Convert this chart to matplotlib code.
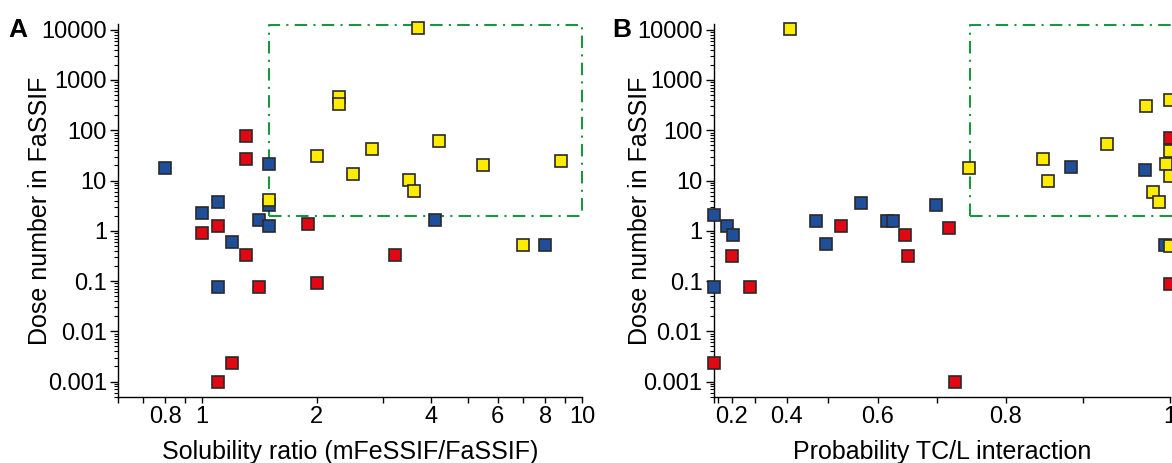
import matplotlib
matplotlib.use('Agg')
import matplotlib.pyplot as plt
import numpy as np
from matplotlib.ticker import FixedLocator, FixedFormatter, NullLocator, LogLocator

plt.rcParams['font.family'] = ['Liberation Sans', 'DejaVu Sans']

# panel A: solubility ratio vs dose number
yellow_sol = [3.69, 2.29, 2.29, 2.0, 2.8, 2.5, 4.2, 3.51, 3.6, 5.5, 8.78, 1.5, 7.0]
yellow_dose = [11000, 455, 335, 31, 43, 13.6, 60, 10.3, 6.2, 20, 24, 4.1, 0.51]
red_sol = [1.3, 1.3, 1.9, 1.0, 1.1, 1.3, 3.21, 1.41, 2.0, 1.2, 1.1]
red_dose = [77, 27, 1.36, 0.9, 1.22, 0.333, 0.333, 0.076, 0.091, 0.00234, 0.001]
blue_sol = [0.8, 1.5, 1.5, 1.0, 1.1, 1.41, 1.5, 4.1, 1.2, 7.98, 1.1]
blue_dose = [17.4, 21, 3.3, 2.3, 3.8, 1.66, 1.27, 1.63, 0.6, 0.53, 0.076]

# panel B: probability of TC/L interaction vs dose number
yellow_p = [0.41, 0.748, 0.85, 0.856, 0.929, 0.973, 1.0, 1.0, 0.996, 1.0, 0.981, 0.988, 1.0]
yellow_d = [10300, 18, 27.4, 9.6, 54, 305, 400, 38, 21.5, 12.4, 5.8, 3.7, 0.49]
red_p = [1.0, 0.528, 0.647, 0.718, 0.199, 0.653, 0.284, 1.0, 0.03, 0.728]
red_d = [70, 1.27, 0.83, 1.13, 0.32, 0.32, 0.075, 0.088, 0.0023, 0.001]
blue_p = [0.885, 0.972, 0.03, 0.169, 0.205, 0.475, 0.568, 0.616, 0.627, 0.698, 0.496, 0.03, 0.995]
blue_d = [19, 16, 2.1, 1.22, 0.83, 1.6, 3.55, 1.56, 1.56, 3.2, 0.55, 0.075, 0.53]

# highlighted regions (x0, x1, y0, y1)
box_a = [1.5, 10, 2, 12500]
box_b = [0.75, 1.05, 2, 12500]

y_ticks = [0.001, 0.01, 0.1, 1, 10, 100, 1000, 10000]
y_labels = ['0.001', '0.01', '0.1', '1', '10', '100', '1000', '10000']
xa_ticks = [0.6, 0.7, 0.8, 0.9, 1, 2, 3, 4, 5, 6, 7, 8, 9, 10]
xa_labels = ['', '', '0.8', '', '1', '2', '', '4', '', '6', '', '8', '', '10']
xb_ticks = [0, 0.1, 0.2, 0.3, 0.4, 0.5, 0.6, 0.7, 0.8, 0.9, 1.0]
xb_labels = ['', '', '0.2', '', '0.4', '', '0.6', '', '0.8', '', '1']

blue = '#1f4e9b'
red = '#e30613'
yellow = '#ffec00'
green = '#1a9641'

fig = plt.figure(figsize=(11.72, 4.63), dpi=100)
axA = fig.add_axes([118/1172, 1-396.7/463, (582-118)/1172, (396.7-24)/463])
axB = fig.add_axes([713.5/1172, 1-396.7/463, (1170-713.5)/1172, (396.7-24)/463])

def scatter_all(ax, sets):
    for xs, ys, c in sets:
        ax.plot(xs, ys, 's', ms=9, mfc=c, mec='#2a2a2a', mew=1.2,
                linestyle='none', clip_on=False, zorder=3)

def draw_box(ax, b):
    x0, x1, y0, y1 = b
    ax.plot([x0, x0, x1, x1], [y0, y1, y1, y0], color=green, lw=1.5,
            dashes=(6, 3, 1, 3), clip_on=False, zorder=2)
    ax.plot([x0, x1], [y0, y0], color=green, lw=1.5, dashes=(6, 3, 1, 3),
            clip_on=False, zorder=2)

def style(ax, ylab_x):
    ax.set_yscale('log')
    ax.set_ylim(5e-4, 1.3e4)
    ax.yaxis.set_major_locator(FixedLocator(y_ticks))
    ax.yaxis.set_major_formatter(FixedFormatter(y_labels))
    ax.yaxis.set_minor_locator(LogLocator(base=10, subs=np.arange(2, 10), numticks=20))
    ax.spines['top'].set_visible(False)
    ax.spines['right'].set_visible(False)
    for s in ['left', 'bottom']:
        ax.spines[s].set_linewidth(1.0)
    ax.tick_params(axis='both', which='major', labelsize=17, length=4.5, width=1.0, pad=2)
    ax.tick_params(axis='y', which='major', length=6)
    ax.tick_params(axis='y', which='minor', length=3, width=0.8)
    ax.set_ylabel('Dose number in FaSSIF', fontsize=18)
    ax.yaxis.set_label_coords(ylab_x, 0.5)

# panel A
draw_box(axA, box_a)
scatter_all(axA, [(blue_sol, blue_dose, blue), (red_sol, red_dose, red),
                  (yellow_sol, yellow_dose, yellow)])
axA.set_xscale('log')
axA.set_xlim(0.6, 10)
axA.xaxis.set_major_locator(FixedLocator(xa_ticks))
axA.xaxis.set_major_formatter(FixedFormatter(xa_labels))
axA.xaxis.set_minor_locator(NullLocator())
style(axA, -0.142)
axA.set_xlabel('Solubility ratio (mFeSSIF/FaSSIF)', fontsize=18, labelpad=8.5)

# panel B, x axis on a squared scale
draw_box(axB, box_b)
scatter_all(axB, [(blue_p, blue_d, blue), (red_p, red_d, red),
                  (yellow_p, yellow_d, yellow)])
axB.set_xscale('function', functions=(lambda v: np.sign(v) * v**2,
                                      lambda v: np.sqrt(np.abs(v))))
axB.set_xlim(0, 1)
axB.xaxis.set_major_locator(FixedLocator(xb_ticks))
axB.xaxis.set_major_formatter(FixedFormatter(xb_labels))
axB.xaxis.set_minor_locator(NullLocator())
style(axB, -0.135)
axB.set_xlabel('Probability TC/L interaction', fontsize=18, labelpad=8.5)

fig.text(8/1172, 1-30/463, 'A', fontsize=19, fontweight='bold', va='center', ha='left')
fig.text(612/1172, 1-30/463, 'B', fontsize=19, fontweight='bold', va='center', ha='left')

fig.savefig('out.png', dpi=100)
